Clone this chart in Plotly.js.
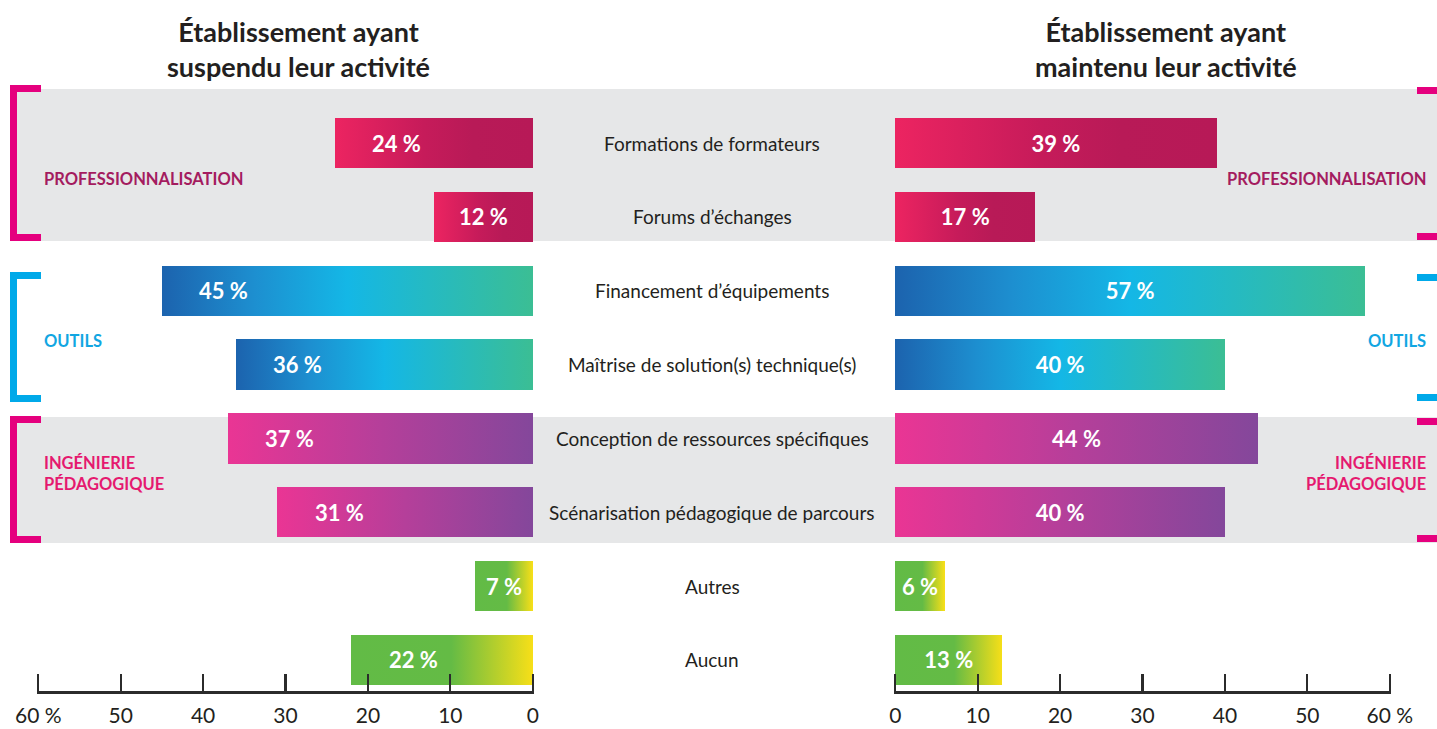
<!DOCTYPE html>
<html>
<head>
<meta charset="utf-8">
<script src="https://cdn.plot.ly/plotly-3.0.1.min.js"></script>
<style>
  html, body { margin: 0; padding: 0; background: #ffffff; }
  #chart { width: 1437px; height: 729px; }
</style>
</head>
<body>
<div id="chart"></div>
<script>
// ---------- DATA ----------
const categories = [
  "Formations de formateurs",
  "Forums d’échanges",
  "Financement d’équipements",
  "Maîtrise de solution(s) technique(s)",
  "Conception de ressources spécifiques",
  "Scénarisation pédagogique de parcours",
  "Autres",
  "Aucun"
];
const suspendedValues = [24, 12, 45, 36, 37, 31, 7, 22];
const maintainedValues = [39, 17, 57, 40, 44, 40, 6, 13];
const categoryGroup = ["pro", "pro", "outils", "outils", "inge", "inge", "autre", "autre"];
const leftTitle = "Établissement ayant<br>suspendu leur activité";
const rightTitle = "Établissement ayant<br>maintenu leur activité";
const groupLabels = {
  pro: "PROFESSIONNALISATION",
  outils: "OUTILS",
  inge: "INGÉNIERIE<br>PÉDAGOGIQUE"
};
const tickValues = [0, 10, 20, 30, 40, 50, 60];
const tickLabels = ["0", "10", "20", "30", "40", "50", "60 %"];

// ---------- STYLE ----------
const FONT = "Lato, 'Open Sans', sans-serif";
const W = 1437, H = 729;
const PLOT_TOP = 80, PLOT_BOTTOM = 691;
const px = x => x / W;
const py = y => (PLOT_BOTTOM - y) / (PLOT_BOTTOM - PLOT_TOP);

const gradients = {
  pro:    [[0, "#ec2461"], [0.45, "#c61b5a"], [0.7, "#b81a57"], [1, "#b71957"]],
  outils: [[0, "#1c63ae"], [0.25, "#1d8fd0"], [0.5, "#14b7e6"], [1, "#3bbe94"]],
  inge:   [[0, "#ea3594"], [0.5, "#b53f9a"], [1, "#84479b"]],
  autre:  [[0, "#62bb46"], [0.55, "#64bb45"], [1, "#f7df18"]]
};
const fallbackColor = { pro: "#cf1e5b", outils: "#16a3dc", inge: "#b8419a", autre: "#8cc63f" };
const groupColor = { pro: "#a41c5f", outils: "#11a6e2", inge: "#e5196f" };
const bracketColor = { pro: "#e5007e", outils: "#00a9e9", inge: "#e5007e" };

const barColors = categoryGroup.map(g => fallbackColor[g]);

// ---------- TRACES ----------
const leftTrace = {
  type: "bar", orientation: "h",
  x: suspendedValues, y: categories,
  xaxis: "x", yaxis: "y",
  width: 0.68,
  marker: { color: barColors, line: { width: 0 } },
  hoverinfo: "skip"
};
const rightTrace = {
  type: "bar", orientation: "h",
  x: maintainedValues, y: categories,
  xaxis: "x2", yaxis: "y",
  width: 0.68,
  marker: { color: barColors, line: { width: 0 } },
  texttemplate: "<b>%{x} %</b>",
  textposition: "inside",
  insidetextanchor: "middle",
  constraintext: "none",
  textfont: { family: FONT, size: 22, color: "#ffffff" },
  hoverinfo: "skip"
};

// ---------- ANNOTATIONS ----------
const annotations = [];
// left value labels (placed toward the outer end of each bar)
suspendedValues.forEach((v, i) => {
  annotations.push({
    xref: "x", yref: "y", x: Math.max(v - 7.5, v / 2), y: categories[i],
    text: "<b>" + v + " %</b>", showarrow: false,
    font: { family: FONT, size: 22, color: "#ffffff" },
    xanchor: "center", yanchor: "middle"
  });
});
// centre category labels
categories.forEach((c, i) => {
  annotations.push({
    xref: "paper", yref: "y", x: px(712), y: c,
    text: c, showarrow: false,
    font: { family: FONT, size: 19, color: "#231f20" },
    xanchor: "center", yanchor: "middle"
  });
});
// titles
[[leftTitle, 298], [rightTitle, 1166]].forEach(([t, cx]) => {
  annotations.push({
    xref: "paper", yref: "paper", x: px(cx), y: py(49),
    text: "<b>" + t + "</b>", showarrow: false,
    font: { family: FONT, size: 27, color: "#231f20" },
    xanchor: "center", yanchor: "middle"
  });
});
// group labels
const groupLabelY = { pro: 179, outils: 341, inge: 473 };
Object.keys(groupLabels).forEach(g => {
  annotations.push({
    xref: "paper", yref: "paper", x: px(42), y: py(groupLabelY[g]),
    text: "<b>" + groupLabels[g] + "</b>", showarrow: false, align: "left",
    font: { family: FONT, size: 16.5, color: groupColor[g] },
    xanchor: "left", yanchor: "middle"
  });
  annotations.push({
    xref: "paper", yref: "paper", x: px(1428), y: py(groupLabelY[g]),
    text: "<b>" + groupLabels[g] + "</b>", showarrow: false, align: "right",
    font: { family: FONT, size: 16.5, color: groupColor[g] },
    xanchor: "right", yanchor: "middle"
  });
});

// ---------- SHAPES (bands + brackets) ----------
const shapes = [];
function rect(x0, x1, y0, y1, color, layer) {
  shapes.push({
    type: "rect", xref: "paper", yref: "paper",
    x0: px(x0), x1: px(x1), y0: py(y1), y1: py(y0),
    fillcolor: color, line: { width: 0 }, layer: layer || "below"
  });
}
// grey bands
rect(14, W, 89, 241, "#e6e7e8");
rect(14, W, 417, 543, "#e6e7e8");
// brackets
const brackets = [
  { g: "pro", top: 85, bottom: 241 },
  { g: "outils", top: 272, bottom: 402 },
  { g: "inge", top: 416, bottom: 543 }
];
brackets.forEach(b => {
  const c = bracketColor[b.g];
  rect(10, 17, b.top, b.bottom, c, "above");
  rect(10, 41, b.top, b.top + 7, c, "above");
  rect(10, 41, b.bottom - 7, b.bottom, c, "above");
  rect(1417, W, b.top + 2, b.top + 9, c, "above");
  rect(1417, W, b.bottom - 8, b.bottom - 1, c, "above");
});

// ---------- LAYOUT ----------
const axisCommon = {
  tickmode: "array", tickvals: tickValues, ticktext: tickLabels,
  ticks: "inside", ticklen: 17, tickwidth: 2.2, tickcolor: "#2b2b2b",
  showline: true, linecolor: "#2b2b2b", linewidth: 3,
  showgrid: false, zeroline: false, fixedrange: true,
  tickfont: { family: FONT, size: 21, color: "#231f20" },
  ticklabelstandoff: 4
};
const layout = {
  width: W, height: H,
  margin: { l: 0, r: 0, t: PLOT_TOP, b: H - PLOT_BOTTOM },
  paper_bgcolor: "#ffffff",
  plot_bgcolor: "rgba(0,0,0,0)",
  showlegend: false,
  hovermode: false,
  bargap: 0,
  xaxis: Object.assign({}, axisCommon, { domain: [px(37), px(534)], range: [60.15, -0.15], anchor: "y" }),
  xaxis2: Object.assign({}, axisCommon, { domain: [px(894), px(1391)], range: [-0.15, 60.15], anchor: "y" }),
  yaxis: {
    type: "category", categoryorder: "array", categoryarray: categories,
    range: [7.42, -0.853], showticklabels: false, ticks: "",
    showgrid: false, zeroline: false, showline: false, fixedrange: true
  },
  annotations: annotations,
  shapes: shapes
};

function applyGradients(gd) {
  const svg = gd.querySelector("svg.main-svg");
  if (!svg) return;
  const NS = "http://www.w3.org/2000/svg";
  let defs = svg.querySelector("defs");
  if (!defs) { defs = document.createElementNS(NS, "defs"); svg.insertBefore(defs, svg.firstChild); }
  Object.keys(gradients).forEach(g => {
    const lg = document.createElementNS(NS, "linearGradient");
    lg.setAttribute("id", "grad-" + g);
    lg.setAttribute("x1", "0"); lg.setAttribute("y1", "0");
    lg.setAttribute("x2", "1"); lg.setAttribute("y2", "0");
    gradients[g].forEach(([off, col]) => {
      const st = document.createElementNS(NS, "stop");
      st.setAttribute("offset", off);
      st.setAttribute("stop-color", col);
      lg.appendChild(st);
    });
    defs.appendChild(lg);
  });
  gd.querySelectorAll(".barlayer .trace").forEach(tr => {
    tr.querySelectorAll(".point").forEach((pt, i) => {
      const p = pt.querySelector("path");
      if (p && categoryGroup[i]) p.style.fill = "url(#grad-" + categoryGroup[i] + ")";
    });
  });
}

Plotly.newPlot("chart", [leftTrace, rightTrace], layout, { staticPlot: true, displayModeBar: false })
  .then(gd => applyGradients(gd));
</script>
</body>
</html>
